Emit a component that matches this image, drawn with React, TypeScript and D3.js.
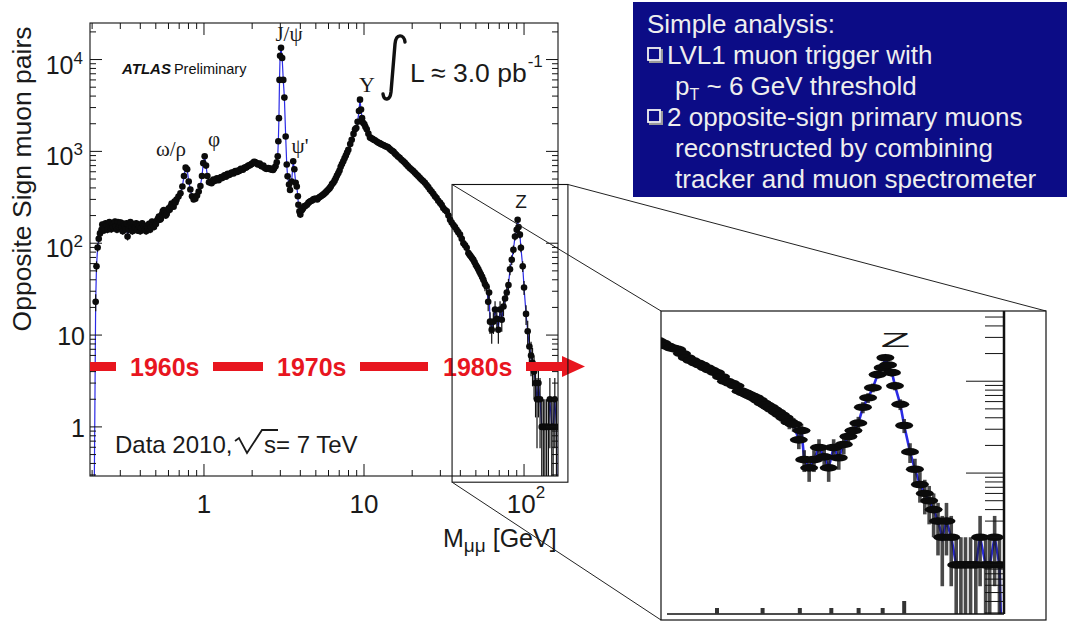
import React from "react";
import * as d3 from "d3";

// ---------- data ----------
const masses = [
  0.205, 0.2105, 0.213, 0.2165, 0.22, 0.224, 0.229, 0.234, 0.24, 0.2465, 0.253, 0.26, 0.267, 0.274, 0.282, 0.29,
  0.298, 0.306, 0.315, 0.324, 0.333, 0.342, 0.352, 0.362, 0.372, 0.383, 0.394, 0.405, 0.417, 0.429, 0.441, 0.454,
  0.467, 0.48, 0.494, 0.508, 0.523, 0.538, 0.553, 0.569, 0.585, 0.602, 0.619, 0.637, 0.655, 0.674, 0.693, 0.713,
  0.733, 0.75, 0.768, 0.785, 0.803, 0.822, 0.842, 0.862, 0.883, 0.905, 0.927, 0.95, 0.972, 0.99, 1.01, 1.03,
  1.05, 1.075, 1.1, 1.13, 1.16, 1.19, 1.22, 1.25, 1.285, 1.32, 1.355, 1.39, 1.43, 1.47, 1.51, 1.55,
  1.59, 1.635, 1.68, 1.725, 1.77, 1.82, 1.87, 1.92, 1.97, 2.03, 2.085, 2.14, 2.2, 2.26, 2.32, 2.385,
  2.45, 2.52, 2.59, 2.66, 2.74, 2.8, 2.85, 2.89, 2.915, 2.94, 2.965, 2.99, 3.03, 3.08, 3.13, 3.18,
  3.24, 3.29, 3.33, 3.4, 3.45, 3.53, 3.61, 3.67, 3.74, 3.8, 3.86, 3.89, 3.95, 4.0, 4.08, 4.17,
  4.3, 4.49, 4.65, 4.83, 5.0, 5.19, 5.38, 5.58, 5.78, 5.99, 6.2, 6.43, 6.66, 6.91, 7.15, 7.42,
  7.7, 7.98, 8.2, 8.38, 8.6, 8.79, 8.95, 9.12, 9.3, 9.44, 9.58, 9.72, 9.87, 10.05, 10.2, 10.4,
  10.65, 10.9, 11.3, 11.7, 12.0, 12.5, 12.9, 13.2, 13.7, 14.2, 14.8, 15.3, 15.9, 16.7, 17.6, 18.4,
  19.3, 20.3, 21.3, 22.3, 23.4, 24.6, 25.8, 27.1, 28.4, 29.9, 31.3, 32.9, 34.5, 36.2, 37.9, 39.8,
  41.8, 43.8, 44.9, 46.5, 48.2, 50.0, 51.8, 53.7, 55.7, 57.0, 58.2, 59.7, 60.5, 61.3, 62.8, 64.3,
  65.9, 67.6, 69.1, 70.8, 72.6, 74.4, 76.1, 78.0, 79.9, 81.7, 83.8, 85.8, 87.8, 90.0, 91.2, 92.4,
  94.2, 95.6, 98.1, 100.0, 102.9, 105.4, 108.0, 110.6, 113.0, 115.5, 118.0, 120.5, 123.0, 125.9, 129.0, 132.0,
  135.0, 138.4, 142.0, 145.0, 149.0, 152.0, 155.7, 159.4, 162.0,
];
const counts = [
  0, 23, 56, 90, 112, 128, 140, 150, 145, 156, 162, 148, 160, 166, 152, 170,
  158, 148, 163, 142, 118, 156, 147, 162, 150, 138, 152, 146, 158, 141, 152, 163,
  149, 160, 170, 176, 195, 185, 222, 212, 208, 240, 252, 262, 285, 298, 322, 350,
  415, 540, 665, 640, 470, 385, 325, 300, 305, 330, 365, 420, 540, 745, 885, 700,
  540, 460, 470, 468, 485, 495, 492, 510, 525, 530, 548, 560, 552, 575, 585, 596,
  605, 618, 628, 640, 652, 665, 688, 702, 725, 748, 765, 742, 728, 705, 690, 668,
  645, 660, 640, 632, 650, 690, 760, 885, 1290, 2300, 6000, 11000, 13400, 10400, 6000, 3850,
  1450, 720, 535, 435, 380, 470, 780, 640, 455, 415, 325, 262, 222, 205, 228, 242,
  255, 275, 288, 300, 305, 310, 325, 340, 360, 385, 415, 455, 510, 580, 680, 780,
  900, 1040, 1200, 1340, 1550, 1740, 1800, 2100, 2750, 3660, 2850, 2300, 2050, 1970, 1850, 1740,
  1560, 1420, 1370, 1320, 1280, 1230, 1190, 1170, 1130, 1100, 1030, 990, 920, 850, 780, 720,
  660, 610, 560, 515, 475, 430, 385, 345, 310, 275, 242, 222, 180, 158, 140, 124,
  100, 89, 78, 72, 66, 58, 52, 46, 40, 36, 34, 23, 29, 14, 11.4, 14,
  19, 15, 11.4, 19, 14.7, 20.5, 25, 29, 35, 52, 66, 85, 118, 140, 180, 150,
  124, 89, 56, 33, 17, 11, 7.5, 6, 5, 4, 3, 2, 3, 2, 1, 1,
  1, 1, 1, 2, 1, 1, 2, 1, 0,
];
// further bins of the same spectrum, read from the thick (fluctuating) parts of the band
const massesExtra = [
  0.2315, 0.237, 0.243, 0.2495, 0.2565, 0.2635, 0.2705, 0.278, 0.286, 0.294, 0.302, 0.3105, 0.3195, 0.3285, 0.3375, 0.347,
  0.357, 0.367, 0.3775, 0.3885, 0.3995, 0.411, 0.423, 0.435, 0.4475, 0.4605, 0.4735, 0.487, 0.501, 0.5155, 0.5305, 0.5455,
  0.561, 0.577, 0.5935, 0.6105, 0.628, 0.646, 0.6645, 1.115, 1.145, 1.175, 1.205, 1.235, 1.27, 1.3, 1.34, 1.37,
  1.41, 1.45, 1.49, 1.53, 1.57, 1.61, 1.66, 1.7, 1.75, 1.795, 1.845, 1.895, 1.945, 2.0, 2.055, 2.11,
  2.17, 2.23, 2.29, 2.35, 2.415, 2.485, 2.555, 2.625, 2.7, 4.12, 4.23, 4.4, 4.57, 4.74, 4.91, 5.1,
  5.28, 5.48, 5.68, 5.88, 6.1, 6.31, 6.55, 6.78, 7.03, 7.28, 7.56, 7.84, 11.1, 11.5, 12.25, 12.7,
  13.45, 13.95, 14.5, 15.05, 15.6, 16.3, 17.15, 18.0, 18.85, 19.8, 20.8, 21.8, 22.85, 24.0, 25.2, 26.45,
  27.75, 29.1, 30.6, 32.1, 33.7, 35.3, 37.0, 38.8, 40.8, 42.8, 45.7, 47.3, 49.1, 50.9, 52.7, 54.7,
];
const countsExtra = [
  160, 138, 165, 140, 170, 142, 150, 172, 140, 150, 168, 135, 155, 165, 140, 170,
  135, 148, 165, 160, 135, 165, 150, 135, 145, 140, 172, 150, 162, 185, 180, 205,
  230, 200, 225, 232, 270, 250, 278, 450, 492, 478, 510, 485, 520, 512, 545, 530,
  570, 560, 590, 575, 610, 598, 612, 645, 632, 668, 672, 700, 712, 735, 770, 752,
  722, 735, 690, 700, 655, 650, 648, 652, 628, 235, 252, 262, 282, 292, 305, 300,
  318, 332, 350, 372, 398, 440, 480, 545, 620, 730, 840, 970, 1390, 1340, 1250, 1210,
  1150, 1120, 1060, 1010, 950, 880, 810, 750, 690, 635, 585, 540, 495, 455, 410, 365,
  325, 290, 260, 230, 200, 168, 150, 132, 112, 95, 75, 69, 62, 55, 49, 43,
];

const xMajorTicks = [1, 10, 100];
const xMajorBase = ["1", "10", "10"];
const xMajorExp = ["", "", "2"];
const yMajorTicks = [1, 10, 100, 1000, 10000];
const yMajorBase = ["1", "10", "10", "10", "10"];
const yMajorExp = ["", "", "2", "3", "4"];

const peakTexts = ["ω/ρ", "φ", "J/ψ", "ψ'", "Υ"];
const decadeTexts = ["1960s", "1970s", "1980s"];
const infoTitle = "Simple analysis:";
const infoItem1 = "LVL1 muon trigger with";
const infoItem1b = " ~ 6 GeV threshold";
const infoItem2 = "2 opposite-sign primary muons";
const infoItem2b = "reconstructed by combining";
const infoItem2c = "tracker and muon spectrometer";

// ---------- layout ----------
const SANS = "'Liberation Sans', Arial, Helvetica, sans-serif";
const SERIF = "'Liberation Serif', 'Times New Roman', serif";
const TXT = "#1a1a1a";
const RED = "#e8161f";
const BLUE = "#2b2be6";
const BOX = "#0c0c86";

function logTicks(lo: number, hi: number) {
  const out: { v: number; major: boolean }[] = [];
  for (let e = -2; e <= 5; e++) {
    for (let k = 1; k <= 9; k++) {
      const v = k * Math.pow(10, e);
      if (v >= lo * 0.9999 && v <= hi * 1.0001) out.push({ v, major: k === 1 });
    }
  }
  return out;
}

export default function App() {
  const L = 90, R = 558, T = 23, B = 476;
  const x = d3.scaleLog().domain([0.194, 163]).range([L, R]);
  const y = d3.scaleLog().domain([0.292, 25000]).range([B, T]);

  // inset (magnified view)
  const IL = 661, IR = 1046, IT = 311, IB = 620;
  const xi = d3.scaleLog().domain([40, 163]).range([717, 1004]);
  const yi = d3.scaleLog().domain([0.292, 25000]).range([614, 161]);
  const iAxisX = xi(163);
  const iAxisY = yi(0.292);

  const allM = masses.concat(massesExtra);
  const allC = counts.concat(countsExtra);
  const order = d3.range(allM.length).sort((a, b) => allM[a] - allM[b]);
  const sm = order.map((i) => allM[i]);
  const sc = order.map((i) => allC[i]);

  const pts = sm.map((m, i) => {
    const prev = i > 0 ? sm[i - 1] : (m * m) / sm[i + 1];
    const next = i < sm.length - 1 ? sm[i + 1] : (m * m) / sm[i - 1];
    return { m, c: sc[i], lo: Math.sqrt(prev * m), hi: Math.sqrt(m * next) };
  });
  const nz = pts.filter((p) => p.c > 0);

  const lineMain = d3
    .line<any>()
    .x((d) => x(d.m))
    .y((d) => y(Math.max(d.c, 0.05)));
  const lineInset = d3
    .line<any>()
    .x((d) => xi(d.m))
    .y((d) => yi(Math.max(d.c, 0.05)));

  const xt = logTicks(0.194, 163);
  const yt = logTicks(0.292, 25000);

  // zoom box on the main plot (in data units)
  const zb = { m0: 35.5, m1: 188, c0: 0.25, c1: 436 };
  const zbx0 = x(zb.m0), zbx1 = x(zb.m1), zby0 = y(zb.c1), zby1 = y(zb.c0);

  const errLow = (c: number) => Math.max(c - Math.sqrt(c), 0.05);
  const errHigh = (c: number) => c + Math.sqrt(c);

  return (
    <svg
      width={1070}
      height={623}
      style={{ position: "absolute", left: 0, top: 0, display: "block", background: "#fff" }}
    >
      <defs>
        <clipPath id="mainClip">
          <rect x={L} y={T} width={R - L} height={B - T} />
        </clipPath>
        <clipPath id="insetClip">
          <rect x={IL} y={IT} width={iAxisX - IL} height={iAxisY - IT} />
        </clipPath>
      </defs>

      {/* ---------------- main plot data ---------------- */}
      <g clipPath="url(#mainClip)">
        <path d={lineMain(pts) || ""} fill="none" stroke={BLUE} strokeWidth={1.2} />
        {nz.map((p, i) => (
          <g key={i} stroke="#111" strokeWidth={1.2}>
            <line x1={x(p.m)} x2={x(p.m)} y1={y(errLow(p.c))} y2={y(errHigh(p.c))} />
            <line x1={x(p.lo)} x2={x(p.hi)} y1={y(p.c)} y2={y(p.c)} />
          </g>
        ))}
        {nz.map((p, i) => (
          <circle key={i} cx={x(p.m)} cy={y(p.c)} r={3.3} fill="#0b0b0b" />
        ))}
      </g>

      {/* frame + ticks */}
      <rect x={L} y={T} width={R - L} height={B - T} fill="none" stroke="#111" strokeWidth={1.1} />
      <g stroke="#111" strokeWidth={1}>
        {xt.map((t, i) => {
          const len = t.major ? 12 : 6;
          return (
            <g key={i}>
              <line x1={x(t.v)} x2={x(t.v)} y1={B} y2={B - len} />
              <line x1={x(t.v)} x2={x(t.v)} y1={T} y2={T + len} />
            </g>
          );
        })}
        {yt.map((t, i) => {
          const len = t.major ? 12 : 6;
          return (
            <g key={i}>
              <line x1={L} x2={L + len} y1={y(t.v)} y2={y(t.v)} />
              <line x1={R} x2={R - len} y1={y(t.v)} y2={y(t.v)} />
            </g>
          );
        })}
      </g>

      {/* tick labels */}
      <g fontFamily={SANS} fill={TXT}>
        {xMajorTicks.map((v, i) => (
          <text key={i} x={x(v) + (xMajorExp[i] ? 2 : 0)} y={513} fontSize={26} textAnchor="middle">
            {xMajorBase[i]}
            {xMajorExp[i] ? (
              <tspan fontSize={17} dy={-15}>
                {xMajorExp[i]}
              </tspan>
            ) : null}
          </text>
        ))}
        {yMajorTicks.map((v, i) =>
          yMajorExp[i] ? (
            <text key={i} x={83} y={y(v) + 14} fontSize={25} textAnchor="end">
              {yMajorBase[i]}
              <tspan fontSize={17} dy={-10}>
                {yMajorExp[i]}
              </tspan>
            </text>
          ) : (
            <text key={i} x={85} y={y(v) + 10} fontSize={25} textAnchor="end">
              {yMajorBase[i]}
            </text>
          )
        )}
      </g>

      {/* axis titles */}
      <text
        transform="translate(31,179) rotate(-90)"
        fontFamily={SANS}
        fontSize={26.5}
        fill={TXT}
        textAnchor="middle"
      >
        Opposite Sign muon pairs
      </text>
      <text x={443} y={547} fontFamily={SANS} fontSize={25} fill={TXT}>
        M
        <tspan fontSize={19} dy={5}>
          μμ
        </tspan>
        <tspan dy={-5}> [GeV]</tspan>
      </text>

      {/* ATLAS label */}
      <text x={122} y={74} fontFamily={SANS} fill="#111">
        <tspan fontSize={15} fontWeight="bold" fontStyle="italic">
          ATLAS
        </tspan>
        <tspan fontSize={14.5} dx={3}>
          Preliminary
        </tspan>
      </text>

      {/* luminosity */}
      <path
        d="M 405 42 C 404 34, 396 33, 395 44 L 391 92 C 390 101, 384 101, 383 94"
        fill="none"
        stroke="#111"
        strokeWidth={3.4}
        strokeLinecap="round"
      />
      <text x={410} y={82} fontFamily={SANS} fontSize={26.5} fill={TXT}>
        L ≈ 3.0 pb
        <tspan fontSize={17} dy={-15} dx={1}>
          -1
        </tspan>
      </text>

      {/* peak labels */}
      <g fontFamily={SERIF} fill={TXT} fontSize={21}>
        <text x={171} y={156} textAnchor="middle">{peakTexts[0]}</text>
        <text x={214} y={146} textAnchor="middle">{peakTexts[1]}</text>
        <text x={289} y={41} textAnchor="middle">{peakTexts[2]}</text>
        <text x={300} y={153} textAnchor="middle">{peakTexts[3]}</text>
        <text x={367} y={92} textAnchor="middle" fontSize={22}>{peakTexts[4]}</text>
      </g>
      <text x={521} y={208} fontFamily={SANS} fontSize={19} fill={TXT} textAnchor="middle">
        Z
      </text>

      {/* Data 2010 label */}
      <text x={115} y={453} fontFamily={SANS} fontSize={24} fill={TXT}>
        Data 2010,
      </text>
      <path d="M 235 441 L 239 438 L 247 453 L 262 430 L 278 430" fill="none" stroke={TXT} strokeWidth={1.8} />
      <text x={264} y={453} fontFamily={SANS} fontSize={24} fill={TXT}>
        s= 7 TeV
      </text>

      {/* decade arrow */}
      <g fill={RED}>
        <rect x={90} y={362} width={26} height={9} />
        <rect x={213} y={362} width={50} height={9} />
        <rect x={360} y={362} width={68} height={9} />
        <rect x={526} y={362} width={38} height={9} />
        <path d="M 562 356 L 585 366.5 L 562 377 Z" />
      </g>
      <g fontFamily={SANS} fontSize={25} fontWeight="bold" fill={RED}>
        <text x={130} y={376}>{decadeTexts[0]}</text>
        <text x={277} y={376}>{decadeTexts[1]}</text>
        <text x={443} y={376}>{decadeTexts[2]}</text>
      </g>

      {/* zoom box + connecting lines */}
      <rect x={zbx0} y={zby0} width={zbx1 - zbx0} height={zby1 - zby0} fill="none" stroke="#111" strokeWidth={1.1} />
      <g stroke="#222" strokeWidth={1}>
        <line x1={zbx0} y1={zby0} x2={IL} y2={IT} />
        <line x1={zbx1} y1={zby0} x2={IR} y2={IT} />
        <line x1={zbx0} y1={zby1} x2={IL} y2={IB} />
      </g>

      {/* ---------------- inset ---------------- */}
      <rect x={IL} y={IT} width={IR - IL} height={IB - IT} fill="#fff" stroke="#111" strokeWidth={1.2} />
      <g clipPath="url(#insetClip)">
        <path d={lineInset(pts) || ""} fill="none" stroke={BLUE} strokeWidth={2.6} />
        {nz.map((p, i) => (
          <g key={i}>
            <line
              x1={xi(p.m)}
              x2={xi(p.m)}
              y1={yi(errLow(p.c))}
              y2={yi(errHigh(p.c))}
              stroke="#1c1c1c"
              strokeOpacity={0.8}
              strokeWidth={3.6}
            />
            <line x1={xi(p.lo)} x2={xi(p.hi)} y1={yi(p.c)} y2={yi(p.c)} stroke="#111" strokeWidth={2.2} />
          </g>
        ))}
        {nz.map((p, i) => (
          <ellipse key={i} cx={xi(p.m)} cy={yi(p.c)} rx={9} ry={3.8} fill="#0b0b0b" />
        ))}
      </g>
      <g stroke="#111">
        <line x1={iAxisX} x2={iAxisX} y1={IT} y2={iAxisY} strokeWidth={2.5} />
        <line x1={667} x2={iAxisX} y1={iAxisY} y2={iAxisY} strokeWidth={1.3} />
        {yt
          .filter((t) => yi(t.v) >= IT && yi(t.v) <= iAxisY)
          .map((t, i) => (
            <line
              key={i}
              x1={iAxisX - (t.major ? 38 : 19)}
              x2={iAxisX}
              y1={yi(t.v)}
              y2={yi(t.v)}
              strokeWidth={1}
            />
          ))}
        {xt
          .filter((t) => xi(t.v) >= 667 && xi(t.v) <= iAxisX)
          .map((t, i) => (
            <line
              key={i}
              x1={xi(t.v)}
              x2={xi(t.v)}
              y1={iAxisY}
              y2={iAxisY - (t.major ? 13 : 6)}
              strokeWidth={4}
              stroke="#333"
            />
          ))}
      </g>
      <text
        transform={`translate(${xi(95.8)},347) scale(2.4,1)`}
        fontFamily={SANS}
        fontSize={20}
        fill={TXT}
        textAnchor="middle"
      >
        Z
      </text>

      {/* ---------------- info box ---------------- */}
      <rect x={633} y={2} width={434} height={195} fill={BOX} />
      <g fontFamily={SANS} fontSize={26} fill="#eeeeee">
        <text x={647} y={33}>{infoTitle}</text>
        <rect x={650} y={50} width={12} height={12} fill="none" stroke="#9a9a9a" strokeWidth={2} />
        <rect x={648} y={48} width={12} height={12} fill={BOX} stroke="#f2f2f2" strokeWidth={1.8} />
        <text x={667} y={64}>{infoItem1}</text>
        <text x={675} y={95}>
          p
          <tspan fontSize={16} dy={5}>
            T
          </tspan>
          <tspan dy={-5}>{infoItem1b}</tspan>
        </text>
        <rect x={650} y={112} width={12} height={12} fill="none" stroke="#9a9a9a" strokeWidth={2} />
        <rect x={648} y={110} width={12} height={12} fill={BOX} stroke="#f2f2f2" strokeWidth={1.8} />
        <text x={667} y={126}>{infoItem2}</text>
        <text x={675} y={157}>{infoItem2b}</text>
        <text x={675} y={188}>{infoItem2c}</text>
      </g>
    </svg>
  );
}
